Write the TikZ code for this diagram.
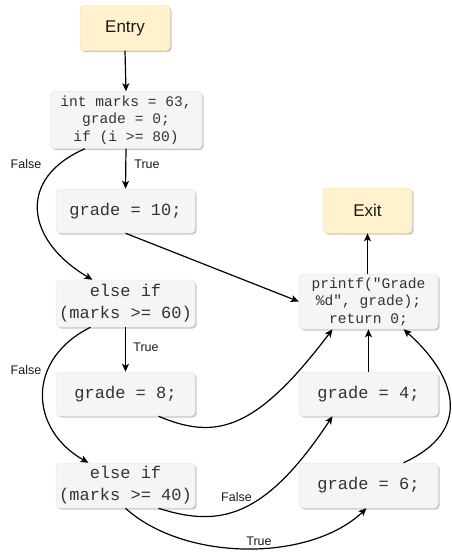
\documentclass[tikz,border=0pt]{standalone}
\usepackage{fontspec}
\setmainfont{Liberation Sans}
\newfontfamily\codefont{Liberation Mono}
\usetikzlibrary{arrows.meta,shadows,calc}
\definecolor{codefill}{HTML}{F5F5F5}
\definecolor{codeline}{HTML}{E8E8E8}
\definecolor{termfill}{HTML}{FFF2CC}
\definecolor{termline}{HTML}{F7E4B0}
\definecolor{codetext}{HTML}{333333}
\tikzset{
  base/.style={rounded corners=4pt, inner sep=0pt, align=center,
    drop shadow={shadow xshift=1.6pt, shadow yshift=-1.6pt, opacity=0.22, fill=black}},
  codebox/.style={base, fill=codefill, draw=codeline, line width=0.5pt,
    text=codetext, minimum width=139pt},
  bigcode/.style={font=\codefont\fontsize{17}{22}\selectfont},
  smallcode/.style={font=\codefont\fontsize{14.6}{17.5}\selectfont},
  terminal/.style={base, fill=termfill, draw=termline, line width=0.5pt,
    text=black!90, minimum width=90pt, minimum height=45pt,
    font=\fontsize{17}{20}\selectfont},
  flow/.style={draw=black, line width=1.2pt,
    -{Stealth[length=8pt,width=7pt,inset=2pt]}},
  edgelabel/.style={font=\fontsize{12.5}{14}\selectfont, text=black!90, inner sep=0pt}
}
\begin{document}
\begin{tikzpicture}[x=1pt,y=-1pt]
  \useasboundingbox (0,0) rectangle (452,552);

  % terminals
  \node[terminal] (entry) at (125,28) {Entry};
  \node[terminal, minimum width=89pt] (exit) at (367.5,210.5) {Exit};

  % left column
  \node[codebox, smallcode, minimum width=152pt, minimum height=57pt] (init) at (126,120)
    {int marks = 63,\\grade = 0;\\if (i >= 80)};
  \node[codebox, bigcode, minimum height=44pt] (g10) at (125.5,211) {grade = 10;};
  \node[codebox, bigcode, minimum height=47pt] (if60) at (125.5,303.5) {else if\\(marks >= 60)};
  \node[codebox, bigcode, minimum height=44pt] (g8) at (125.5,394) {grade = 8;};
  \node[codebox, bigcode, minimum height=45pt] (if40) at (125.5,485.5) {else if\\(marks >= 40)};

  % right column
  \node[codebox, smallcode, minimum height=55pt] (out) at (368.5,301.5)
    {printf("Grade\\\%d", grade);\\return 0;};
  \node[codebox, bigcode, minimum height=44pt] (g4) at (368.5,394) {grade = 4;};
  \node[codebox, bigcode, minimum height=45pt] (g6) at (368.5,485.5) {grade = 6;};

  % straight connectors
  \draw[flow] (entry.south) -- (init.north);
  \draw[flow] (init.south) -- (g10.north);
  \draw[flow] (if60.south) -- (g8.north);
  \draw[flow] (g4.north) -- (out.south);
  \draw[flow] (exit.south |- out.north) -- (exit.south);
  \draw[flow] (g10.south) -- (out.west);

  % false branches on the left
  \draw[flow] ([xshift=-41pt]init.south) .. controls (17,178) and (25,240) .. ([xshift=-33pt]if60.north);
  \draw[flow] ([xshift=-35pt]if60.south) .. controls (25,360) and (30,430) .. ([xshift=-37pt]if40.north);

  % joins into the output block
  \draw[flow] ([xshift=33pt]g8.south) .. controls (215,440) and (255,432) .. ([xshift=-36pt]out.south);
  \draw[flow] ([xshift=33pt]if40.south) .. controls (220,528) and (265,518) .. ([xshift=-36pt]g4.south);
  \draw[flow] ([xshift=35pt]g6.north) .. controls (475,430) and (455,375) .. ([xshift=35pt]out.south);
  \draw[flow] (if40.south) .. controls (185,562) and (310,562) .. ([xshift=-2pt]g6.south);

  % branch labels
  \node[edgelabel] (t1) at (147,164) {True};
  \node[edgelabel] (f1) at (26,164) {False};
  \node[edgelabel] (t2) at (146,347) {True};
  \node[edgelabel] (f2) at (26,370) {False};
  \node[edgelabel] (f3) at (236.5,497.5) {False};
  \node[edgelabel] (t3) at (259,541) {True};
\end{tikzpicture}
\end{document}
